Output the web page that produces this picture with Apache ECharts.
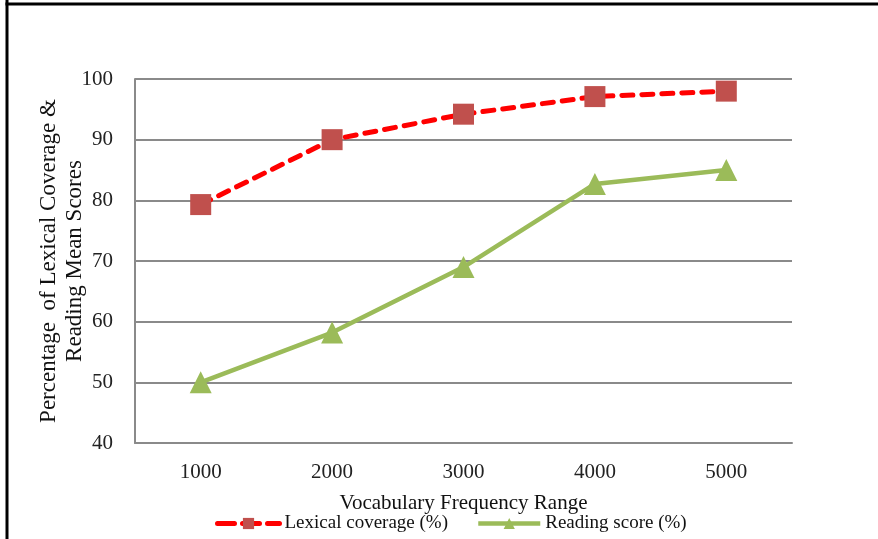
<!DOCTYPE html>
<html>
<head>
<meta charset="utf-8">
<script src="https://cdn.jsdelivr.net/npm/echarts@6/dist/echarts.min.js"></script>
<style>
html,body{margin:0;padding:0;background:#fff;}
#chart{width:878px;height:539px;}
</style>
</head>
<body>
<div id="chart"></div>
<script>
var categories = ['1000', '2000', '3000', '4000', '5000'];
var lexicalCoverage = [79.3, 90.0, 94.2, 97.1, 98.0];
var readingScore = [50.0, 58.2, 69.0, 82.7, 85.0];
var yTicks = { min: 40, max: 100, interval: 10 };
var seriesNames = ['Lexical coverage (%)', 'Reading score (%)'];

var font = '"Liberation Serif", "Times New Roman", serif';
var chart = echarts.init(document.getElementById('chart'), null, { renderer: 'canvas' });
chart.setOption({
  backgroundColor: '#ffffff',
  animation: false,
  graphic: [
    { type: 'line', shape: { x1: 7, y1: 0, x2: 7, y2: 539 }, style: { stroke: '#000', lineWidth: 3 } },
    { type: 'line', shape: { x1: 5.5, y1: 4, x2: 878, y2: 4 }, style: { stroke: '#000', lineWidth: 3 } }
  ],
  grid: { left: 135, top: 79, width: 657, height: 364, containLabel: false },
  legend: {
    bottom: 1,
    left: 210,
    itemWidth: 62,
    itemHeight: 14,
    itemGap: 28,
    textStyle: { fontFamily: font, fontSize: 19, color: '#111' },
    data: [
      { name: seriesNames[0], lineStyle: { width: 5, color: '#FF0000', type: [17, 8] } },
      { name: seriesNames[1], lineStyle: { width: 4.5, color: '#9BBB59' } }
    ]
  },
  xAxis: {
    type: 'category',
    data: categories,
    boundaryGap: true,
    name: 'Vocabulary Frequency Range',
    nameLocation: 'middle',
    nameGap: 50,
    nameTextStyle: { fontFamily: font, fontSize: 21, color: '#111' },
    axisLine: { show: true, lineStyle: { color: '#8a8a8a', width: 2 } },
    axisTick: { show: false },
    axisLabel: { fontFamily: font, fontSize: 21, color: '#222', margin: 19 },
    splitLine: { show: false }
  },
  yAxis: {
    type: 'value',
    min: yTicks.min,
    max: yTicks.max,
    interval: yTicks.interval,
    name: 'Percentage  of Lexical Coverage &\nReading Mean Scores',
    nameLocation: 'middle',
    nameGap: 47,
    nameRotate: 90,
    nameMoveOverlap: false,
    nameTextStyle: { fontFamily: font, fontSize: 23, color: '#111', lineHeight: 26 },
    axisLine: { show: true, lineStyle: { color: '#8a8a8a', width: 2 } },
    axisTick: { show: false },
    axisLabel: { fontFamily: font, fontSize: 21, color: '#222', margin: 22 },
    splitLine: { show: true, lineStyle: { color: '#8a8a8a', width: 2 } }
  },
  series: [
    {
      name: seriesNames[0],
      type: 'line',
      data: lexicalCoverage,
      symbol: 'rect',
      symbolSize: 21,
      itemStyle: { color: '#C0504D' },
      lineStyle: { color: '#FF0000', width: 5, type: [11, 9], cap: 'round' },
      z: 3
    },
    {
      name: seriesNames[1],
      type: 'line',
      data: readingScore,
      symbol: 'triangle',
      symbolSize: 22,
      itemStyle: { color: '#9BBB59' },
      lineStyle: { color: '#9BBB59', width: 4.5 },
      z: 2
    }
  ]
});
</script>
</body>
</html>
